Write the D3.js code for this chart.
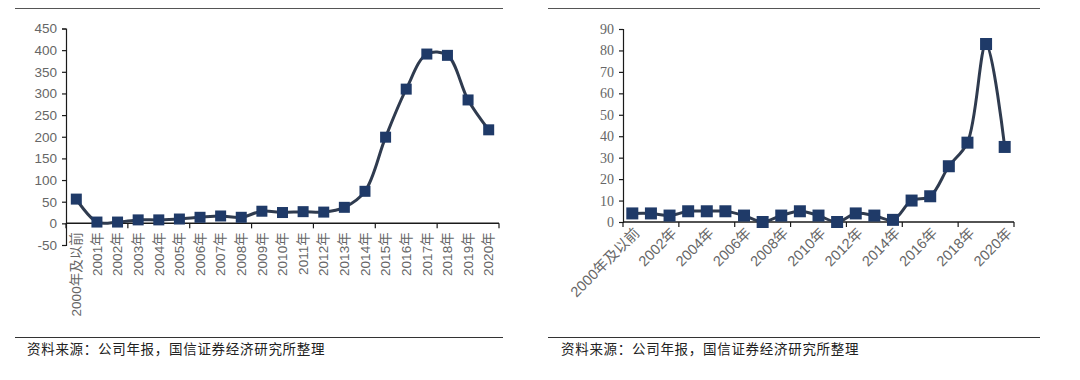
<!DOCTYPE html>
<html>
<head>
<meta charset="utf-8">
<script src="https://cdn.jsdelivr.net/npm/d3@7"></script>
<style>
  body { margin: 0; background: #fff; }
  svg { display: block; }
</style>
</head>
<body>
<script>
var years = ["2000年及以前", "2001年", "2002年", "2003年", "2004年", "2005年", "2006年", "2007年",
  "2008年", "2009年", "2010年", "2011年", "2012年", "2013年", "2014年", "2015年", "2016年",
  "2017年", "2018年", "2019年", "2020年"];

var leftValues = [56, 3, 3, 8, 8, 10, 14, 17, 14, 28, 25, 27, 26, 37, 74, 199, 310, 391, 388, 285, 216];
var rightValues = [4, 4, 3, 5, 5, 5, 3, 0, 3, 5, 3, 0, 4, 3, 1, 10, 12, 26, 37, 83, 35];

var leftTicks = [-50, 0, 50, 100, 150, 200, 250, 300, 350, 400, 450];
var rightTicks = [0, 10, 20, 30, 40, 50, 60, 70, 80, 90];

var sourceText = "资料来源：公司年报，国信证券经济研究所整理";

var lineColor = "#2f3b4f",
    markColor = "#1f3a68",
    axisColor = "#1a1a1a",
    labelColor = "#666";

var svg = d3.select("body").append("svg")
    .attr("width", 1080)
    .attr("height", 380);

// frame lines + source notes
[[15, 503], [548, 1040]].forEach(function(r, i) {
  svg.append("line").attr("x1", r[0]).attr("x2", r[1]).attr("y1", 8.5).attr("y2", 8.5)
      .attr("stroke", "#555").attr("stroke-width", 1.2);
  svg.append("line").attr("x1", r[0]).attr("x2", r[1]).attr("y1", 337.5).attr("y2", 337.5)
      .attr("stroke", "#333").attr("stroke-width", 1.2);
  svg.append("text")
      .attr("x", i ? 561 : 27)
      .attr("y", 354)
      .attr("font-family", "'Noto Sans CJK SC', sans-serif")
      .attr("font-size", 13.5)
      .attr("letter-spacing", 0.7)
      .attr("fill", "#222")
      .text(sourceText);
});

function drawChart(opt) {
  var x = d3.scaleBand().domain(years).range([opt.x0, opt.x1]);
  var y = d3.scaleLinear().domain(opt.domain).range([opt.y0, opt.y1]);
  var g = svg.append("g");

  // y axis
  var yAxis = g.append("g")
      .attr("transform", "translate(" + opt.x0 + ",0)")
      .call(d3.axisLeft(y).tickValues(opt.ticks).tickSize(4).tickPadding(5)
        .tickFormat(function(d) { return String(d); }));
  yAxis.select(".domain").attr("stroke", axisColor).attr("stroke-width", 1.2);
  yAxis.selectAll(".tick line").attr("stroke", axisColor).attr("stroke-width", 1.2);
  yAxis.selectAll("text")
      .attr("font-family", opt.yFont)
      .attr("font-size", opt.yFontSize)
      .attr("fill", labelColor);

  // x axis at zero
  var y0 = y(0);
  g.append("line")
      .attr("x1", opt.x0).attr("x2", opt.x1)
      .attr("y1", y0).attr("y2", y0)
      .attr("stroke", axisColor).attr("stroke-width", 1.5);
  var bounds = d3.range(0, years.length + 1, 3);
  g.selectAll(".xt").data(bounds).enter().append("line")
      .attr("x1", function(i) { return opt.x0 + i * x.step(); })
      .attr("x2", function(i) { return opt.x0 + i * x.step(); })
      .attr("y1", y0).attr("y2", y0 + 5)
      .attr("stroke", axisColor).attr("stroke-width", 1.2);

  // x labels
  g.selectAll(".xl").data(years.filter(function(d, i) { return i % opt.labelEvery === 0; }))
    .enter().append("text")
      .attr("transform", function(d) {
        var cx = x(d) + x.bandwidth() / 2;
        return "translate(" + (cx + opt.lx) + "," + (y0 + opt.ly) + ") rotate(" + opt.rot + ")";
      })
      .attr("text-anchor", "end")
      .attr("dy", opt.rot === -90 ? "0.35em" : "0.3em")
      .attr("font-family", "'Liberation Sans', Arial, 'Noto Sans CJK SC', sans-serif")
      .attr("font-size", opt.xFontSize)
      .attr("fill", labelColor)
      .text(function(d) { return d; });

  // line
  var line = d3.line()
      .x(function(d, i) { return x(years[i]) + x.bandwidth() / 2; })
      .y(function(d) { return y(d); })
      .curve(d3.curveCatmullRom.alpha(0.5));

  g.append("path")
      .datum(opt.values)
      .attr("d", line)
      .attr("fill", "none")
      .attr("stroke", lineColor)
      .attr("stroke-width", 3);

  g.selectAll(".mk").data(opt.values).enter().append("rect")
      .attr("x", function(d, i) { return x(years[i]) + x.bandwidth() / 2 - opt.ms / 2; })
      .attr("y", function(d) { return y(d) - opt.ms / 2; })
      .attr("width", opt.ms)
      .attr("height", opt.ms)
      .attr("fill", markColor);
}

drawChart({
  x0: 66, x1: 499, y0: 245, y1: 28.5,
  domain: [-50, 450], ticks: leftTicks, values: leftValues,
  yFont: "'Liberation Sans', Arial, sans-serif", yFontSize: 13.5,
  xFontSize: 13.5, labelEvery: 1, rot: -90, lx: 0, ly: 9, ms: 11
});

drawChart({
  x0: 623, x1: 1014, y0: 222, y1: 29,
  domain: [0, 90], ticks: rightTicks, values: rightValues,
  yFont: "'Liberation Serif', 'Times New Roman', serif", yFontSize: 14,
  xFontSize: 14.5, labelEvery: 2, rot: -45, lx: 5, ly: 9, ms: 12
});
</script>
</body>
</html>
